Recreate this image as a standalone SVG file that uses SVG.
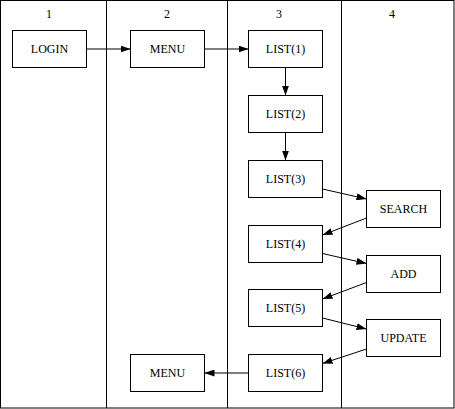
<svg xmlns="http://www.w3.org/2000/svg" width="455" height="409" viewBox="0 0 455 409">
<style>
.box{fill:#fff;stroke:#000;stroke-width:1}
.lane{fill:none;stroke:#000;stroke-width:1}
.t{font-family:"Liberation Serif","Times New Roman",serif;font-size:12px;fill:#000;text-anchor:middle}
.c{stroke:#000;stroke-width:1;fill:none;marker-end:url(#ah)}
</style>
<defs>
<marker id="ah" markerUnits="userSpaceOnUse" markerWidth="10" markerHeight="7" refX="10" refY="3.5" orient="auto">
<path d="M0,0 L10,3.5 L0,7 z" fill="#000"/>
</marker>
</defs>
<rect width="455" height="409" fill="#fff"/>
<g id="lanes">
<rect class="lane" x="0.5" y="0.5" width="453.5" height="407.5"/>
<line class="lane" x1="106.5" y1="0.5" x2="106.5" y2="408"/>
<line class="lane" x1="227.5" y1="0.5" x2="227.5" y2="408"/>
<line class="lane" x1="341.5" y1="0.5" x2="341.5" y2="408"/>
<text class="t" x="49" y="18">1</text>
<text class="t" x="167" y="18">2</text>
<text class="t" x="279" y="18">3</text>
<text class="t" x="392" y="18">4</text>
</g>
<g id="connectors">
<line class="c" x1="86.5" y1="49" x2="130.5" y2="49"/>
<line class="c" x1="204.5" y1="49" x2="248.5" y2="49"/>
<line class="c" x1="285.5" y1="67.5" x2="285.5" y2="95.5"/>
<line class="c" x1="285.5" y1="132.5" x2="285.5" y2="160.5"/>
<line class="c" x1="322.5" y1="189" x2="366.5" y2="199"/>
<line class="c" x1="366.5" y1="218" x2="322.5" y2="235"/>
<line class="c" x1="322.5" y1="253.5" x2="366.5" y2="263.5"/>
<line class="c" x1="366.5" y1="282.5" x2="322.5" y2="299"/>
<line class="c" x1="322.5" y1="318" x2="366.5" y2="329"/>
<line class="c" x1="366.5" y1="349" x2="322.5" y2="363.5"/>
<line class="c" x1="248.5" y1="373" x2="204.5" y2="373"/>
</g>
<g id="login"><rect class="box" x="12.5" y="30.5" width="74" height="37"/><text class="t" x="49.5" y="53">LOGIN</text></g>
<g id="menu1"><rect class="box" x="130.5" y="30.5" width="74" height="37"/><text class="t" x="167.5" y="53">MENU</text></g>
<g id="list1"><rect class="box" x="248.5" y="30.5" width="74" height="37"/><text class="t" x="285.5" y="53">LIST(1)</text></g>
<g id="list2"><rect class="box" x="248.5" y="95.5" width="74" height="37"/><text class="t" x="285.5" y="118">LIST(2)</text></g>
<g id="list3"><rect class="box" x="248.5" y="160.5" width="74" height="37"/><text class="t" x="285.5" y="183">LIST(3)</text></g>
<g id="list4"><rect class="box" x="248.5" y="225.5" width="74" height="37"/><text class="t" x="285.5" y="248">LIST(4)</text></g>
<g id="list5"><rect class="box" x="248.5" y="289.5" width="74" height="37"/><text class="t" x="285.5" y="312">LIST(5)</text></g>
<g id="list6"><rect class="box" x="248.5" y="354.5" width="74" height="37"/><text class="t" x="285.5" y="377">LIST(6)</text></g>
<g id="search"><rect class="box" x="366.5" y="190.5" width="74" height="37"/><text class="t" x="403.5" y="213">SEARCH</text></g>
<g id="add"><rect class="box" x="366.5" y="255.5" width="74" height="37"/><text class="t" x="403.5" y="278">ADD</text></g>
<g id="update"><rect class="box" x="366.5" y="319.5" width="74" height="37"/><text class="t" x="403.5" y="342">UPDATE</text></g>
<g id="menu2"><rect class="box" x="130.5" y="354.5" width="74" height="37"/><text class="t" x="167.5" y="377">MENU</text></g>
</svg>
